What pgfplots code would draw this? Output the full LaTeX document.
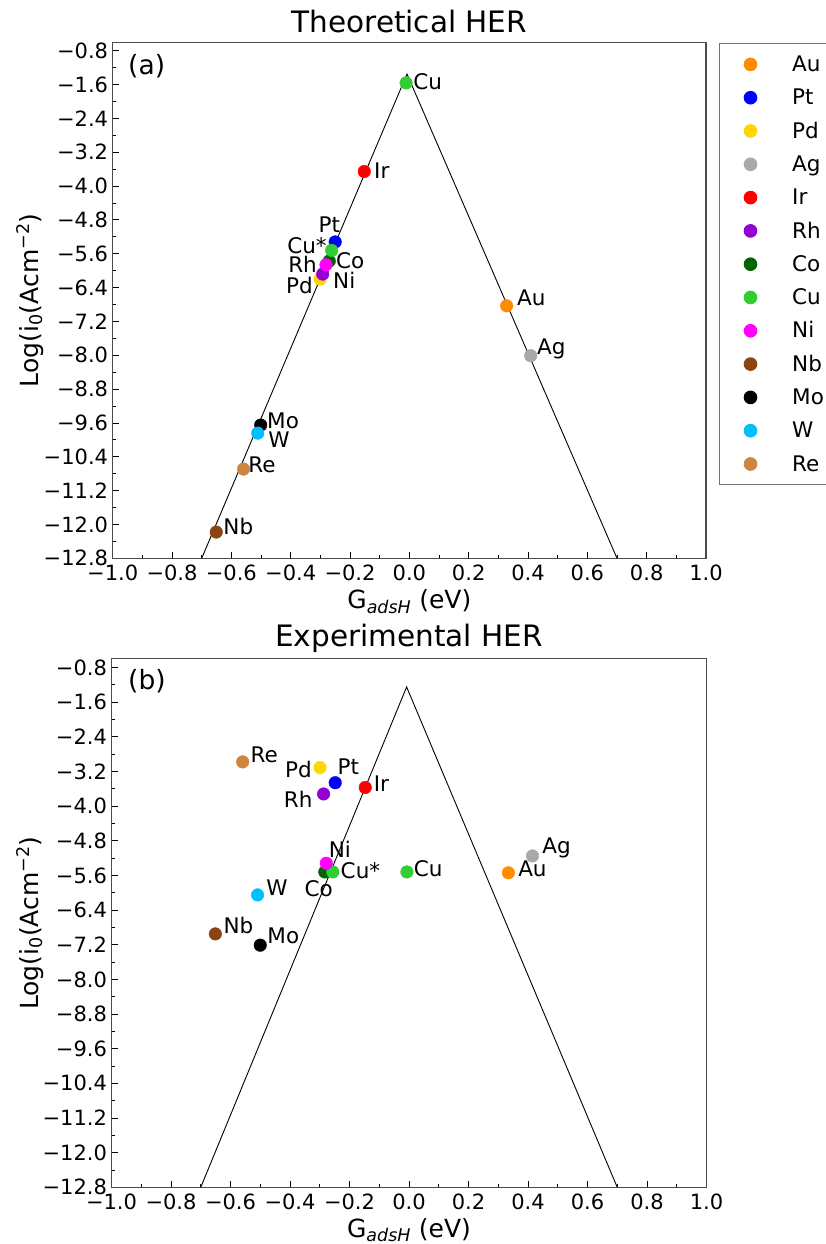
\documentclass[border=0pt]{standalone}
\usepackage{fontspec}
\setmainfont{DejaVu Sans}
\usepackage{pgfplots}
\pgfplotsset{compat=1.18}
\definecolor{cAu}{HTML}{FF8C00}
\definecolor{cPt}{HTML}{0000FF}
\definecolor{cPd}{HTML}{FFD700}
\definecolor{cAg}{HTML}{A9A9A9}
\definecolor{cIr}{HTML}{FF0000}
\definecolor{cRh}{HTML}{9400D3}
\definecolor{cCo}{HTML}{006400}
\definecolor{cCu}{HTML}{32CD32}
\definecolor{cNi}{HTML}{FF00FF}
\definecolor{cNb}{HTML}{8B4513}
\definecolor{cMo}{HTML}{000000}
\definecolor{cW}{HTML}{00BFFF}
\definecolor{cRe}{HTML}{CD853F}
\newcommand{\fs}[1]{\fontsize{#1}{#1}\selectfont}
\newcommand{\lab}[6]{\node[lbl, anchor=#3, xshift=#4pt, yshift=#5pt] at (axis cs:#1,#2) {#6};}
\newcommand{\lgd}[1]{\raisebox{0pt}[15.7pt][0pt]{\makebox[40pt][l]{#1}}}
\tikzset{lbl/.style={font=\fs{21.5}, inner sep=0pt, text height=15.7pt, text depth=0pt}}
\pgfplotsset{
  herax/.style={
    scale only axis,
    xmin=-1, xmax=1, ymin=-12.8, ymax=-0.6,
    xtick={-1,-0.8,-0.6,-0.4,-0.2,0,0.2,0.4,0.6,0.8,1},
    xticklabels={−1.0,−0.8,−0.6,−0.4,−0.2,0.0,0.2,0.4,0.6,0.8,1.0},
    ytick={-12.8,-12,-11.2,-10.4,-9.6,-8.8,-8,-7.2,-6.4,-5.6,-4.8,-4,-3.2,-2.4,-1.6,-0.8},
    yticklabels={−12.8,−12.0,−11.2,−10.4,−9.6,−8.8,−8.0,−7.2,−6.4,−5.6,−4.8,−4.0,−3.2,−2.4,−1.6,−0.8},
    minor x tick num=1, minor y tick num=1,
    tick align=inside, xtick pos=left, ytick pos=left,
    major tick length=6pt, minor tick length=3.5pt,
    every tick/.style={black, line width=0.9pt},
    axis line style={black!70, line width=1.2pt},
    tick label style={font=\fs{21}},
    xticklabel style={inner ysep=0pt, yshift=-6.5pt},
    yticklabel style={inner xsep=0pt, xshift=-4.4pt},
    label style={font=\fs{25}},
    title style={font=\fs{29.5}, at={(0.5,1)}, anchor=center, yshift=15pt},
    xlabel={G\textsubscript{\textit{adsH}} (eV)},
    ylabel={Log(i\textsubscript{0}(Acm\textsuperscript{−2})},
  },
  pt/.style={only marks, mark=*, mark size=6.3pt, color=#1, mark options={draw=none, fill=#1}},
}
\begin{document}
\begin{tikzpicture}
\useasboundingbox (0pt,0pt) rectangle (825pt,-1244pt);
% ---------------- top panel ----------------
\begin{axis}[herax,
  at={(112.7pt,-558.3pt)}, anchor=south west,
  width=593.3pt, height=516pt,
  title={Theoretical HER},
  xlabel style={at={(axis description cs:0.5,-0.084)}, anchor=center},
  ylabel style={at={(axis description cs:-0.1394,0.5)}, anchor=center},
  legend style={at={(1,1)}, anchor=north west, xshift=13pt, yshift=-1pt,
    draw=black!55, line width=1pt, inner xsep=0pt, inner ysep=12pt,
    font=\fs{21.5}, row sep=16.1pt, column sep=20.7pt,
    nodes={inner sep=0pt}},
  legend cell align=left,
  legend image code/.code={\path[draw=none,fill=none] (0pt,-7.85pt) rectangle (52pt,7.85pt);
    \draw[mark repeat=2,mark phase=2] plot coordinates {(21pt,0pt)(31pt,0pt)(41pt,0pt)};},
]
\addplot[pt=cAu] coordinates {(0.328,-6.83)}; \addlegendentry{\lgd{Au}}
\addplot[pt=cPt] coordinates {(-0.250,-5.32)}; \addlegendentry{\lgd{Pt}}
\addplot[pt=cPd] coordinates {(-0.301,-6.20)}; \addlegendentry{\lgd{Pd}}
\addplot[pt=cAg] coordinates {(0.409,-8.01)}; \addlegendentry{\lgd{Ag}}
\addplot[pt=cIr] coordinates {(-0.152,-3.655)}; \addlegendentry{\lgd{Ir}}
\addplot[pt=cRh] coordinates {(-0.292,-6.08)}; \addlegendentry{\lgd{Rh}}
\addplot[pt=cCo] coordinates {(-0.270,-5.77)}; \addlegendentry{\lgd{Co}}
\addplot[pt=cCu] coordinates {(-0.011,-1.56) (-0.262,-5.52)}; \addlegendentry{\lgd{Cu}}
\addplot[pt=cNi] coordinates {(-0.281,-5.86)}; \addlegendentry{\lgd{Ni}}
\addplot[pt=cNb] coordinates {(-0.651,-12.18)}; \addlegendentry{\lgd{Nb}}
\addplot[pt=cMo] coordinates {(-0.501,-9.65)}; \addlegendentry{\lgd{Mo}}
\addplot[pt=cW] coordinates {(-0.511,-9.84)}; \addlegendentry{\lgd{W}}
\addplot[pt=cRe] coordinates {(-0.559,-10.69)}; \addlegendentry{\lgd{Re}}
\addplot[black, line width=0.9pt, forget plot] coordinates {(-0.7,-12.8) (-0.008,-1.35) (0.7,-12.8)};
\lab{-0.011}{-1.56}{west}{7}{1.3}{Cu}
\lab{-0.152}{-3.655}{west}{9.7}{0.7}{Ir}
\lab{-0.250}{-5.32}{east}{5}{17.3}{Pt}
\lab{-0.262}{-5.52}{east}{-4.7}{4.7}{Cu*}
\lab{-0.270}{-5.77}{west}{6.7}{0.5}{Co}
\lab{-0.292}{-6.08}{east}{-5.7}{9.3}{Rh}
\lab{-0.281}{-5.86}{west}{7}{-16}{Ni}
\lab{-0.301}{-6.20}{east}{-7}{-6}{Pd}
\lab{-0.501}{-9.65}{west}{6.3}{4.5}{Mo}
\lab{-0.511}{-9.84}{west}{10.3}{-6.7}{W}
\lab{-0.559}{-10.69}{west}{4.7}{4.3}{Re}
\lab{-0.651}{-12.18}{west}{7}{5.3}{Nb}
\lab{0.328}{-6.83}{west}{10.3}{8}{Au}
\lab{0.409}{-8.01}{west}{6.3}{9}{Ag}
\node[anchor=west, inner sep=0pt, font=\fs{26.5}] at (axis description cs:0.0258,0.954) {(a)};
\end{axis}
% ---------------- bottom panel ----------------
\begin{axis}[herax,
  at={(111.5pt,-1187.3pt)}, anchor=south west,
  width=595pt, height=528.5pt,
  title={Experimental HER},
  title style={yshift=-1pt},
  xlabel style={at={(axis description cs:0.5,-0.081)}, anchor=center},
  ylabel style={at={(axis description cs:-0.137,0.5)}, anchor=center},
]
\addplot[pt=cAu] coordinates {(0.334,-5.54)};
\addplot[pt=cPt] coordinates {(-0.248,-3.46)};
\addplot[pt=cPd] coordinates {(-0.299,-3.11)};
\addplot[pt=cAg] coordinates {(0.415,-5.15)};
\addplot[pt=cIr] coordinates {(-0.147,-3.57)};
\addplot[pt=cRh] coordinates {(-0.287,-3.72)};
\addplot[pt=cCo] coordinates {(-0.283,-5.52)};
\addplot[pt=cCu] coordinates {(-0.007,-5.52) (-0.256,-5.52)};
\addplot[pt=cNi] coordinates {(-0.278,-5.32)};
\addplot[pt=cNb] coordinates {(-0.651,-6.95)};
\addplot[pt=cMo] coordinates {(-0.500,-7.21)};
\addplot[pt=cW] coordinates {(-0.509,-6.05)};
\addplot[pt=cRe] coordinates {(-0.559,-2.98)};
\addplot[black, line width=0.9pt, forget plot] coordinates {(-0.7,-12.8) (-0.008,-1.25) (0.7,-12.8)};
\lab{-0.559}{-2.98}{west}{7.7}{7.7}{Re}
\lab{-0.299}{-3.11}{east}{-8}{-2.3}{Pd}
\lab{-0.248}{-3.46}{west}{2.3}{15.7}{Pt}
\lab{-0.147}{-3.57}{west}{8.3}{3.8}{Ir}
\lab{-0.287}{-3.72}{east}{-11}{-5.5}{Rh}
\lab{-0.278}{-5.32}{west}{2.3}{13.3}{Ni}
\lab{-0.256}{-5.52}{west}{7.7}{1.7}{Cu*}
\lab{-0.007}{-5.52}{west}{6.7}{3.7}{Cu}
\lab{-0.509}{-6.05}{west}{8.7}{7}{W}
\lab{-0.283}{-5.52}{west}{-20.3}{-16.3}{Co}
\lab{-0.651}{-6.95}{west}{8}{8}{Nb}
\lab{-0.500}{-7.21}{west}{7}{10}{Mo}
\lab{0.415}{-5.15}{west}{9.7}{10.7}{Ag}
\lab{0.334}{-5.54}{west}{9.7}{3.7}{Au}
\node[anchor=west, inner sep=0pt, font=\fs{26.5}] at (axis description cs:0.0277,0.958) {(b)};
\end{axis}
\end{tikzpicture}
\end{document}
